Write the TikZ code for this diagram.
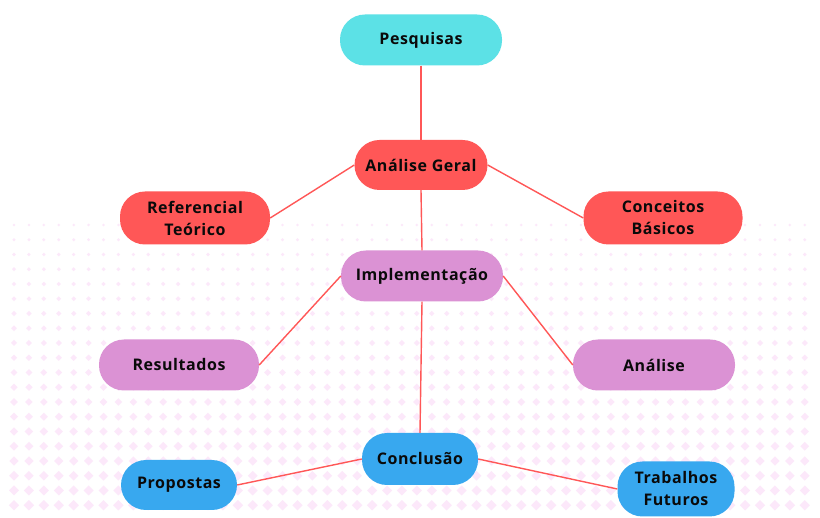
\documentclass[tikz,border=0pt]{standalone}
\usepackage{fontspec}
\setmainfont{Open Sans}[LetterSpace=3.5]
\definecolor{cyanfill}{HTML}{5CE1E6}
\definecolor{redfill}{HTML}{FF5757}
\definecolor{purplefill}{HTML}{DB92D4}
\definecolor{bluefill}{HTML}{38A8EF}
\definecolor{linkred}{HTML}{FF5757}
\definecolor{dotpink}{HTML}{FCE8FA}
\definecolor{textdark}{HTML}{0A0A0A}
\tikzset{
  pill/.style={rectangle, rounded corners=25pt, minimum height=51pt, text=textdark,
    font=\bfseries\fontsize{16}{22}\selectfont, align=center, inner sep=0pt},
  cyanbox/.style={pill, fill=cyanfill},
  redbox/.style={pill, fill=redfill},
  purplebox/.style={pill, fill=purplefill},
  bluebox/.style={pill, fill=bluefill},
  link/.style={draw=linkred, line width=1.4pt}
}
\begin{document}
\begin{tikzpicture}[x=1pt,y=-1pt]
\useasboundingbox (0,0) rectangle (820,518);
\fill[white] (0,0) rectangle (820,518);
% background dotted pattern
\foreach \r in {0,...,19}{
  \pgfmathsetmacro{\yy}{225+14.75*\r}
  \pgfmathsetmacro{\hs}{1.4+0.2*\r}
  \foreach \c in {0,...,53}{
    \pgfmathsetmacro{\xx}{14+14.92*\c}
    \fill[dotpink] (\xx-\hs,\yy) -- (\xx,\yy-\hs) -- (\xx+\hs,\yy) -- (\xx,\yy+\hs) -- cycle;
  }
}
% nodes
\node[cyanbox, minimum width=162pt] (pes) at (421,40) {Pesquisas};
\node[redbox, minimum width=133pt, minimum height=50pt] (ag) at (421,165) {Análise Geral};
\node[redbox, minimum width=150pt, minimum height=53pt] (ref) at (195,218) {Referencial\\Teórico};
\node[redbox, minimum width=159pt, minimum height=53pt] (con) at (663,218) {Conceitos\\Básicos};
\node[purplebox, minimum width=162pt] (imp) at (422,276) {Implementação};
\node[purplebox, minimum width=160pt] (res) at (179,365) {Resultados};
\node[purplebox, minimum width=162pt] (ana) at (654,365) {Análise};
\node[bluebox, minimum width=116pt, minimum height=52pt] (cl) at (420,459) {Conclusão};
\node[bluebox, minimum width=116pt, minimum height=50pt] (pro) at (179,485) {Propostas};
\node[bluebox, minimum width=117pt, minimum height=55pt] (tf) at (676,489) {Trabalhos\\Futuros};
% connectors
\draw[link] (pes.south) -- (ag.north);
\draw[link] (ag.west) -- (ref.east);
\draw[link] (ag.east) -- (con.west);
\draw[link] (ag.south) -- (imp.north);
\draw[link] (imp.west) -- (res.east);
\draw[link] (imp.east) -- (ana.west);
\draw[link] (imp.south) -- (cl.north);
\draw[link] (cl.west) -- (pro.east);
\draw[link] (cl.east) -- (tf.west);
\end{tikzpicture}
\end{document}
